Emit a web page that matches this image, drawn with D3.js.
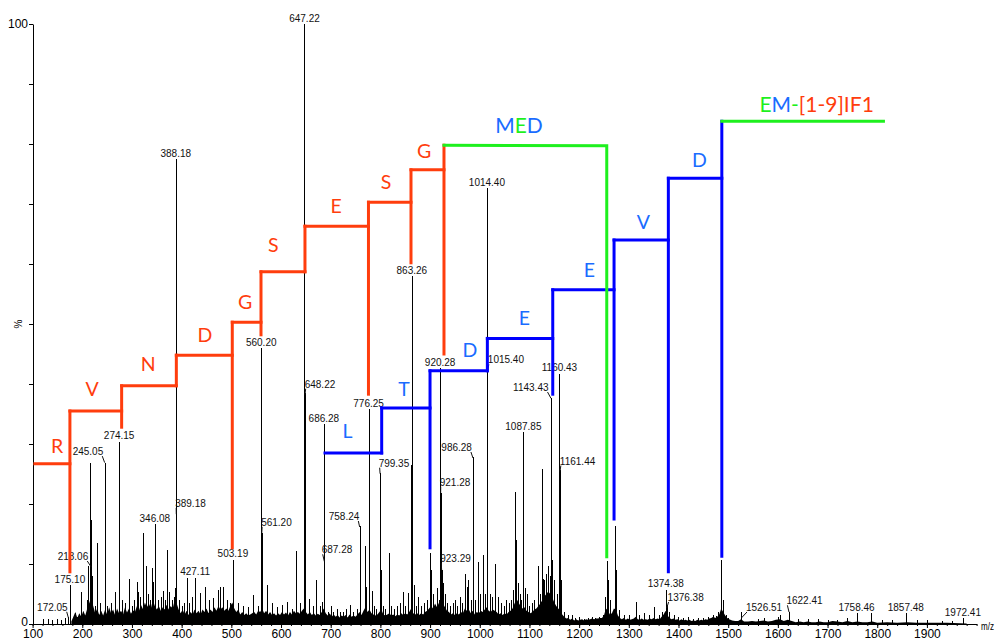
<!DOCTYPE html>
<html>
<head>
<meta charset="utf-8">
<script src="https://cdn.jsdelivr.net/npm/d3@7"></script>
<style>
  body { margin: 0; background: #fff; }
  svg { display: block; }
</style>
</head>
<body>
<svg id="chart" width="998" height="642"></svg>
<script>
// ---------- spectrum data (m/z, relative intensity %) ----------

// annotated peaks: the label is the m/z value itself
const labeledPeaks = [
  [172.05, 1.2], [175.10, 6.5], [218.06, 17.3], [245.05, 26.9], [274.15, 30.4],
  [346.08, 16.6], [388.18, 77.5], [389.18, 18.3], [427.11, 7.7], [503.19, 10.7],
  [560.20, 46.0], [561.20, 15.1], [647.22, 100], [648.22, 38.5], [686.28, 33.3],
  [687.28, 10.4], [758.24, 16.3], [776.25, 35.8], [799.35, 25.1], [863.26, 58.0],
  [920.28, 42.6], [921.28, 21.8], [923.29, 9.0], [986.28, 27.8], [1014.40, 72.6],
  [1015.40, 42.0], [1087.85, 32.0], [1143.43, 37.6], [1160.43, 41.7], [1161.44, 25.7],
  [1374.38, 5.7], [1376.38, 3.2], [1526.51, 2.0], [1622.41, 2.0], [1758.46, 1.8],
  [1857.48, 1.8], [1972.41, 1.0]
];

// other resolved peaks
const peaks = [
  [120,0.8],[130,0.8],[140,0.7],[150,0.8],[158,0.6],[165,1.0],[185,1.8],[190,1.2],
  [198.4,5.3],[210,4],[212,9.6],[215.4,26.8],[217,12],[220,8],[225,3],[230.5,13.5],
  [236,3.5],[250,3],[258,3.5],[266.5,5.3],[280,4],[286,3.5],[294.5,7.5],[300,3],
  [305,4],[309.5,7],[312.6,5.4],[316,4.5],[321.4,15.2],[328.1,9.6],[332,5],[336,4],
  [340.2,9.3],[343,7],[352,4],[358,4.5],[362,5.5],[366,4],[370.5,12.3],[374,5.4],
  [380,4],[384,4.5],[386.5,6],[395,4],[400,3],[404,3.5],[410.5,7.6],[415,3.5],
  [420,4.5],[437,5.2],[447,6.2],[455.7,4],[463.7,4.3],[472.5,5.7],[477,6.2],[483.8,6.2],
  [490.5,4],[497.3,3.5],[514,3.5],[524,3],[534,2.8],[544.2,4.8],[554.3,3],[571.1,6.5],
  [581.2,3.5],[591.3,2.8],[601.4,3.2],[612.7,3.6],[621.5,2.5],[629.5,12.2],[638.2,3.5],
  [656.3,4.1],[663.8,3],[669.8,7.4],[678.5,3],[682,3.7],[695,2],[700,3],[705,2],
  [712,2.5],[718,2],[725,2],[730,2.5],[738.8,3.2],[745,2],[752,2.5],[769,13],
  [771,6.2],[778,5.4],[782.5,5.5],[788,3],[792,2.5],[801,9],[806,3],[810,2.5],
  [816.5,11.8],[822,3],[828,2.5],[834,3],[840,3.5],[845.5,5.4],[850,3],[855,5.1],
  [862,26.5],[868,6.5],[872,3],[876,4.5],[882,3],[888,3.5],[893,4],[899.9,11.8],
  [902,9],[906,5],[914.5,6],[918,4],[926,6.9],[930,5],[934,3.5],[940,3],[946,3.5],
  [950,4],[955,3],[960,4.5],[965,3.5],[970.4,8.3],[974,6.2],[977,7.3],[982,4],[990,4],
  [996.5,10.4],[1000,5],[1006.5,11.5],[1010,5],[1020,5],[1025,4.5],[1031.5,10],
  [1036,4.5],[1042,3.5],[1048,3],[1053,4],[1058,3.5],[1062,4],[1066.5,5.7],[1071.5,22],
  [1073,14],[1076,6.8],[1080,5],[1084,4],[1091,6],[1095,5],[1100,3],[1105,3.5],
  [1110,4],[1116.7,9.6],[1121,5],[1124.8,25.9],[1127,7.5],[1130,7.3],[1134,8.4],
  [1138,9.6],[1141,8],[1146,10.7],[1150,7.3],[1155,5],[1164,7.4],[1170,2],[1178,1.5],
  [1185,1.5],[1192,1],[1200,1.2],[1210,0.8],[1218,1],[1225,1.2],[1232,1],[1240,1.2],
  [1248,1.5],[1253,4.5],[1255.6,10.5],[1258,7.3],[1262,4],[1272.4,16.3],[1275,9],
  [1280,2.3],[1290,1.5],[1300,1.5],[1314,3.7],[1320,1.5],[1330,1.8],[1340,1.5],
  [1350,2.9],[1360,1.5],[1366,2],[1380,2],[1390,1.5],[1400,1.2],[1410,1],[1420,1.2],
  [1430,0.8],[1440,1],[1450,1],[1460,1.2],[1470,1.5],[1475,1.4],[1480,2],[1486,10.7],
  [1489,4],[1495,1.5],[1500,1],[1560,0.8],[1572,1],[1600,1.2],[1605,1.5],[1640,0.8],
  [1660,0.8],[1680,0.8],[1700,0.7],[1720,0.7],[1740,1],[1787,1.8],[1810,0.6],
  [1830,0.6],[1880,0.6],[1900,0.6],[1930,0.5],[1950,0.5]
];

// unresolved chemical noise along the baseline (upper envelope)
const noise = [
  [178,0.4],[182,1.2],[186,2.0],[190,1.0],[194,1.8],[198,1.2],[202,2.2],[206,1.4],[210,2.6],
  [214,3.5],[218,4.5],[222,3.0],[226,1.8],[230,2.6],[234,1.5],[238,2.2],[242,1.4],[246,2.4],
  [250,1.6],[254,2.8],[258,1.8],[262,2.4],[266,1.5],[270,2.6],[274,1.8],[278,2.2],[282,1.6],
  [286,2.8],[290,1.9],[294,2.6],[298,1.7],[302,2.3],[306,2.0],[310,3.0],[314,2.2],[318,3.2],
  [322,2.5],[326,3.6],[330,2.8],[334,3.4],[338,2.6],[342,4.0],[346,3.0],[350,2.4],[354,3.0],
  [358,2.2],[362,2.8],[366,2.4],[370,3.2],[374,2.4],[378,3.0],[382,2.6],[386,4.0],[390,3.4],
  [394,2.4],[398,1.8],[402,2.4],[406,1.6],[410,2.2],[414,1.5],[418,2.0],[422,1.6],[426,2.4],
  [430,1.8],[434,2.2],[438,1.6],[442,2.4],[446,2.0],[450,2.6],[454,1.8],[458,2.4],[462,2.0],
  [466,2.8],[470,2.2],[474,3.0],[478,2.4],[482,2.8],[486,2.2],[490,2.6],[494,2.2],[498,3.0],
  [502,3.6],[506,2.6],[510,2.0],[514,2.4],[518,1.6],[522,2.0],[526,1.5],[530,1.8],[534,1.4],
  [538,1.6],[542,1.8],[546,2.0],[550,1.6],[554,2.2],[558,2.0],[562,2.6],[566,1.8],[570,2.2],
  [574,1.6],[578,2.0],[582,1.5],[586,1.8],[590,1.4],[594,1.8],[598,1.5],[602,2.0],[606,1.6],
  [610,1.9],[614,1.4],[618,2.0],[622,1.6],[626,2.2],[630,1.8],[634,2.0],[638,1.7],[642,2.2],
  [646,2.6],[650,2.0],[654,1.6],[658,2.0],[662,1.5],[666,1.8],[670,1.4],[674,1.7],[678,1.5],
  [682,2.0],[686,2.6],[690,1.8],[694,1.4],[698,1.8],[702,1.2],[706,1.6],[710,1.2],[714,1.5],
  [718,1.1],[722,1.4],[726,1.2],[730,1.5],[734,1.1],[738,1.6],[742,1.2],[746,1.4],[750,1.2],
  [754,1.6],[758,2.0],[762,1.5],[766,2.2],[770,2.8],[774,2.0],[778,2.4],[782,1.8],[786,1.6],
  [790,1.4],[794,1.6],[798,2.0],[802,2.4],[806,1.6],[810,1.4],[814,1.6],[818,1.8],[822,1.4],
  [826,1.6],[830,1.3],[834,1.6],[838,1.4],[842,1.8],[846,1.5],[850,1.8],[854,1.6],[858,2.0],
  [862,2.6],[866,1.8],[870,1.6],[874,1.8],[878,1.5],[882,1.8],[886,1.6],[890,2.0],[894,2.2],
  [898,2.6],[902,3.0],[906,2.6],[910,3.4],[914,2.8],[918,3.6],[922,4.2],[926,3.4],[930,2.8],
  [934,2.2],[938,2.0],[942,1.6],[946,1.8],[950,1.5],[954,1.8],[958,1.6],[962,2.0],[966,1.8],
  [970,2.6],[974,2.2],[978,2.4],[982,1.8],[986,2.2],[990,1.6],[994,2.0],[998,1.8],[1002,2.2],
  [1006,2.0],[1010,2.4],[1014,2.8],[1018,2.2],[1022,2.0],[1026,2.4],[1030,2.2],[1034,2.0],
  [1038,1.6],[1042,1.8],[1046,1.5],[1050,1.8],[1054,1.6],[1058,2.0],[1062,2.2],[1066,2.6],
  [1070,3.4],[1074,4.2],[1078,3.6],[1082,3.0],[1086,2.6],[1090,2.8],[1094,2.2],[1098,2.0],
  [1102,1.8],[1106,2.0],[1110,2.4],[1114,2.6],[1118,3.0],[1122,3.4],[1126,4.0],[1130,4.6],
  [1134,5.0],[1138,5.4],[1142,5.0],[1146,4.4],[1150,3.6],[1154,3.0],[1158,2.6],[1162,2.2],
  [1166,1.6],[1170,1.2],[1174,0.9],[1178,1.0],[1182,0.7],[1186,0.9],[1190,0.6],[1194,0.8],
  [1198,0.6],[1202,0.7],[1206,0.8],[1210,0.6],[1214,0.8],[1218,0.7],[1222,0.8],[1226,0.9],
  [1230,0.8],[1234,0.9],[1238,0.9],[1242,1.0],[1246,1.0],[1250,1.4],[1254,2.6],[1258,2.2],
  [1262,1.6],[1266,1.8],[1270,2.6],[1274,2.4],[1278,1.4],[1282,1.0],[1286,0.8],[1290,1.0],
  [1294,0.7],[1298,0.9],[1302,0.7],[1306,0.8],[1310,0.9],[1314,1.2],[1318,0.8],[1322,0.7],
  [1326,0.9],[1330,0.7],[1334,0.8],[1338,0.7],[1342,0.9],[1346,0.8],[1350,1.0],[1354,0.8],
  [1358,0.9],[1362,0.8],[1366,1.2],[1370,1.6],[1374,2.2],[1378,1.4],[1382,1.0],[1386,0.8],
  [1390,0.9],[1394,0.7],[1398,0.8],[1402,0.6],[1406,0.8],[1410,0.6],[1414,0.7],[1418,0.6],
  [1422,0.7],[1426,0.5],[1430,0.6],[1434,0.5],[1438,0.7],[1442,0.6],[1446,0.7],[1450,0.6],
  [1454,0.8],[1458,0.7],[1462,0.9],[1466,1.0],[1470,1.2],[1474,1.0],[1478,1.2],[1482,1.6],
  [1486,2.6],[1490,2.0],[1494,1.4],[1498,1.0],[1502,0.8],[1508,0.6],[1514,0.5],[1520,0.5],
  [1526,0.8],[1532,0.4],[1540,0.4],[1548,0.5],[1556,0.4],[1564,0.5],[1572,0.6],[1580,0.4],
  [1588,0.5],[1596,0.7],[1604,0.8],[1612,0.5],[1620,0.7],[1628,0.5],[1636,0.3],[1644,0.4],
  [1652,0.3],[1660,0.4],[1668,0.3],[1676,0.3],[1684,0.4],[1692,0.3],[1700,0.3],[1710,0.5],
  [1720,0.4],[1730,0.3],[1740,0.5],[1750,0.3],[1760,0.4],[1770,0.3],[1780,0.3],[1790,0.4],
  [1800,0.2],[1820,0.3],[1840,0.2],[1860,0.3],[1880,0.2],[1900,0.2],[1940,0.2],[1980,0.1]
];

// axis tick values
const xTickValues = [100,200,300,400,500,600,700,800,900,1000,1100,1200,1300,1400,1500,1600,1700,1800,1900];
const yTickValues = [0,10,20,30,40,50,60,70,80,90,100];
const yTickLabels = {0: "0", 100: "100"};

// ---------- fragment ladders (break points in m/z, levels in %) ----------
// y-type series, read from the N-terminal side: R V N D G S E S G
const yStart = 104.6;
const yBreaks = [175.1, 279.2, 389.3, 501.9, 559.7, 648.2, 776.0, 861.6, 928.0];
const yLevels = [26.7, 35.5, 39.7, 44.8, 50.3, 58.7, 66.3, 70.3, 75.7, 79.8];
const yDrops  = [8.7, 32.8, 39.7, 12.7, 48.2, 58.7, 38.3, 60.2, 45.0];
const yResidues = ["R","V","N","D","G","S","E","S","G"];
const yResidueAt = [[149.1,29.7],[219.6,39.3],[332.9,43.45],[447,48.2],[527.5,53.7],
                    [584.5,63.2],[710.7,69.7],[811.3,73.7],[887.8,79.0]];

// b-type series: L T D E E V D
const bStart = 688.5;
const bBreaks = [802.6, 899.9, 1015.3, 1146.9, 1270.3, 1379.6, 1487.2];
const bLevels = [28.5, 36.0, 42.2, 47.6, 55.7, 64.0, 74.3, 83.8];
const bDrops  = [28.5, 12.7, 42.2, 38.3, 17.5, 8.7, 11.3];
const bResidues = ["L","T","D","E","E","V","D"];
const bResidueAt = [[733.8,32.2],[847.5,39.3],[980.4,45.8],[1089.8,51.1],
                    [1220.5,59.1],[1329.2,67.05],[1442,77.45]];

// internal MED bracket and precursor line
const medPath = [[928.0,79.8],[1255.6,79.7],[1255.6,11.2]];
const medAt = [1079, 83.3];
const precursorPath = [[1487.2,83.8],[1812.5,83.8]];
const precursorAt = [1678, 86.8];

// ---------- layout ----------
const C = {
  red: "#ff3d0d",
  blueLine: "#0000ff",
  blueText: "#1a6cff",
  green: "#1ef01e",
  ink: "#000"
};
const tickFont = "Liberation Sans, Arial, sans-serif";
const letterFont = "Lato, 'Open Sans', sans-serif";
// label placement for crowded peaks: [dx from peak, baseline relative to peak top]
const labelShift = {
  "172.05": [-16, -6], "218.06": [-18.3, 39.8], "245.05": [-16.7, -7.5],
  "389.18": [14.2, -7.3], "561.20": [14.7, -7.6], "648.22": [15, -5.3],
  "687.28": [12.6, -8.3], "758.24": [-15.6, -6.2], "799.35": [13.9, -6.7],
  "921.28": [14.4, -7.5], "923.29": [13.9, -8], "986.28": [-16.3, -6.2],
  "1015.40": [18.5, -8.7], "1143.43": [-20.2, -7.4], "1161.44": [17.6, -5.3],
  "1376.38": [18.9, -3.8], "1526.51": [22.7, -1], "1622.41": [15.5, -7.7]
};

const svg = d3.select("#chart");
const x = d3.scaleLinear().domain([100, 2000]).range([32.6, 976.6]);
const y = d3.scaleLinear().domain([0, 100]).range([624, 24]);

// ---------- noise band ----------
svg.append("path")
  .datum(noise)
  .attr("fill", C.ink)
  .attr("d", d3.area().x(d => x(d[0])).y0(y(0)).y1(d => y(d[1])));

// ---------- peak sticks ----------
const allPeaks = peaks.concat(labeledPeaks);
svg.append("g")
  .attr("stroke", C.ink)
  .attr("stroke-width", 1)
  .attr("shape-rendering", "crispEdges")
  .selectAll("line")
  .data(allPeaks)
  .join("line")
  .attr("x1", d => Math.round(x(d[0])) + 0.5)
  .attr("x2", d => Math.round(x(d[0])) + 0.5)
  .attr("y1", y(0))
  .attr("y2", d => y(d[1]));

// ---------- axes ----------
const xAxis = svg.append("g")
  .attr("transform", `translate(0,${y(0)})`)
  .call(d3.axisBottom(x).tickValues(xTickValues).tickSize(4).tickSizeOuter(0)
    .tickPadding(1.5).tickFormat(d3.format("d")));
svg.append("g")
  .attr("transform", `translate(0,${y(0)})`)
  .call(d3.axisBottom(x).tickValues(d3.range(100, 2001, 20)).tickSize(2).tickSizeOuter(0).tickFormat(""))
  .select(".domain").remove();
xAxis.selectAll("text").attr("font-family", tickFont).attr("font-size", 12).attr("fill", C.ink);

const yAxis = svg.append("g")
  .attr("transform", `translate(33,0)`)
  .call(d3.axisLeft(y).tickValues(yTickValues).tickSize(4).tickSizeOuter(0).tickPadding(1)
    .tickFormat(d => yTickLabels[d] || ""));
yAxis.selectAll("text").attr("font-family", tickFont).attr("font-size", 12).attr("fill", C.ink);
yAxis.selectAll("text").filter(d => d === 0).attr("dy", "0.1em");

svg.append("text")
  .attr("x", 981).attr("y", 630)
  .attr("font-family", tickFont)
  .attr("font-size", 10)
  .attr("textLength", 13)
  .attr("lengthAdjust", "spacingAndGlyphs")
  .text("m/z");
svg.append("text")
  .attr("transform", "translate(22,324) rotate(-90)")
  .attr("text-anchor", "middle")
  .attr("font-family", tickFont)
  .attr("font-size", 10)
  .text("%");

// ---------- peak labels ----------
const labelG = svg.append("g")
  .attr("font-family", tickFont)
  .attr("font-size", 10)
  .attr("fill", "#111");
labeledPeaks.forEach(([mz, pct]) => {
  const txt = mz.toFixed(2);
  const px = x(mz), top = y(pct);
  const sh = labelShift[txt] || [0, -2.5];
  const t = labelG.append("text")
    .attr("x", px + sh[0]).attr("y", top + sh[1])
    .attr("text-anchor", "middle")
    .text(txt);
  if (labelShift[txt]) {
    const w = t.node().getComputedTextLength();
    const edge = sh[0] > 0 ? px + sh[0] - w / 2 + 1 : px + sh[0] + w / 2 - 1;
    const by = top + sh[1] + 1;
    labelG.append("line")
      .attr("x1", edge).attr("y1", by)
      .attr("x2", px).attr("y2", Math.max(top, by + 6))
      .attr("stroke", "#111").attr("stroke-width", 1);
  }
});

// ---------- fragment ladders ----------
function ladder(start, breaks, levels, drops) {
  const segs = [];
  let prev = start;
  breaks.forEach((b, i) => {
    segs.push([[prev, levels[i]], [b, levels[i]]]);
    segs.push([[b, Math.min(levels[i], drops[i])], [b, levels[i + 1]]]);
    prev = b;
  });
  return segs;
}
const line = d3.line().x(d => x(d[0])).y(d => y(d[1]));
function drawSegs(segs, color) {
  svg.append("g").selectAll("path").data(segs).join("path")
    .attr("d", line)
    .attr("fill", "none")
    .attr("stroke", color)
    .attr("stroke-width", 3)
    .attr("stroke-linecap", "square");
}
drawSegs(ladder(yStart, yBreaks, yLevels, yDrops), C.red);
drawSegs(ladder(bStart, bBreaks, bLevels, bDrops), C.blueLine);
drawSegs([medPath, precursorPath], C.green);

function residueLabels(names, at, color) {
  svg.append("g").selectAll("text").data(names).join("text")
    .attr("x", (d, i) => x(at[i][0]))
    .attr("y", (d, i) => y(at[i][1]))
    .attr("text-anchor", "middle")
    .attr("dominant-baseline", "central")
    .attr("font-family", letterFont)
    .attr("font-size", 19.5)
    .attr("fill", color)
    .text(d => d);
}
residueLabels(yResidues, yResidueAt, C.red);
residueLabels(bResidues, bResidueAt, C.blueText);

function multiColor(at, parts, size) {
  const t = svg.append("text")
    .attr("x", x(at[0])).attr("y", y(at[1]))
    .attr("text-anchor", "middle")
    .attr("dominant-baseline", "central")
    .attr("font-family", letterFont)
    .attr("font-size", size);
  parts.forEach(([s, c]) => t.append("tspan").attr("fill", c).text(s));
}
multiColor(medAt, [["M", C.blueText], ["E", C.green], ["D", C.blueText]], 21);
multiColor(precursorAt, [["E", C.green], ["M", C.blueText], ["-", C.green], ["[1-9]IF1", C.red]], 21);
</script>
</body>
</html>
